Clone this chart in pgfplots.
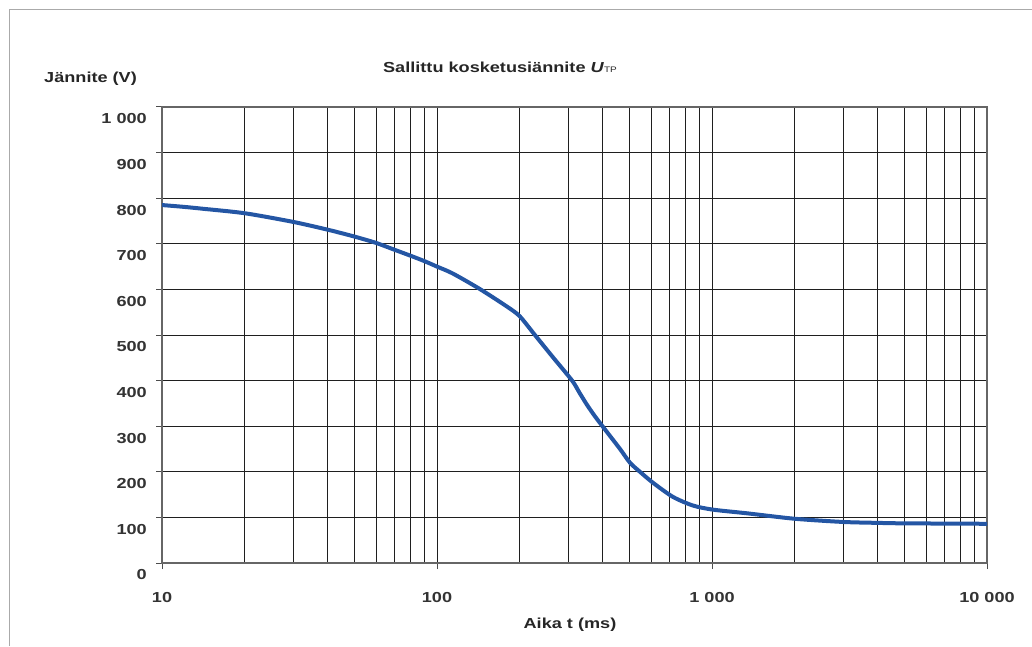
\documentclass[border=0pt]{standalone}
\usepackage{pgfplots}
\pgfplotsset{compat=1.18}
\usepackage{fontspec}
\setmainfont{Liberation Sans}[FakeStretch=1.25]
\definecolor{curveblue}{RGB}{36,86,164}
\definecolor{framegray}{RGB}{170,170,170}
\begin{document}
\fontsize{14.5pt}{17pt}\selectfont
\begin{tikzpicture}
\useasboundingbox (0,0) rectangle (1032pt,646pt);
\draw[framegray, line width=1pt] (9.5pt,0) -- (9.5pt,636.5pt) -- (1032pt,636.5pt);
\begin{axis}[
  at={(162pt,83pt)}, anchor=south west,
  scale only axis, width=825pt, height=456pt,
  xmode=log, xmin=10, xmax=10000, ymin=0, ymax=1000,
  log basis x=10,
  xtick={10,100,1000,10000},
  xticklabels={10,100,1 000,10 000},
  minor xtick={20,30,40,50,60,70,80,90,200,300,400,500,600,700,800,900,2000,3000,4000,5000,6000,7000,8000,9000},
  ytick={0,100,...,1000},
  yticklabels={0,100,200,300,400,500,600,700,800,900,1 000},
  grid=both,
  major grid style={black!88, line width=0.9pt},
  minor grid style={black!88, line width=0.9pt},
  axis line style={black!60, line width=1.2pt},
  tick style={black!70, line width=1pt},
  tick align=outside,
  major tick length=6pt,
  minor tick length=0pt,
  xtick pos=bottom, ytick pos=left,
  tick label style={font=\bfseries\fontsize{14.5pt}{17pt}\selectfont, text=black!80},
  yticklabel style={anchor=east, inner sep=0pt, xshift=-9pt, yshift=-12pt},
  xticklabel style={anchor=center, inner sep=0pt, yshift=-29pt},
  title={\bfseries Sallittu kosketusiännite \textit{U}{\mdseries\fontsize{8pt}{8pt}\selectfont TP}},
  title style={at={(axis description cs:0.4097,1.0614)}, anchor=base, inner sep=0pt, font=\fontsize{14.5pt}{17pt}\selectfont, text=black!85},
  xlabel={\bfseries Aika t (ms)},
  xlabel style={at={(axis description cs:0.4945,-0.1447)}, anchor=base, inner sep=0pt, font=\fontsize{14.5pt}{17pt}\selectfont, text=black!85},
  ylabel={\bfseries Jännite (V)},
  ylabel style={rotate=-90, at={(axis description cs:-0.143,1.0548)}, anchor=base west, inner sep=0pt, font=\fontsize{14.5pt}{17pt}\selectfont, text=black!85},
]
\addplot[curveblue, line width=4pt, line join=round, line cap=round, smooth, tension=0.45] table {
t V
10 785
12 781
14 777
20 767
30 748
40 731
50 716
60 702
70 687
80 674
90 662
100 650
114 635
143 601
180 562
200 541
227 500
265 450
310 400
330 373
351 347
375 322
402 298
463 250
503 220
547 200
610 176
721 145
853 126
1008 117
1340 109
2000 97
3000 90
4000 88
4950 87
10000 86
};
\end{axis}
\end{tikzpicture}
\end{document}
